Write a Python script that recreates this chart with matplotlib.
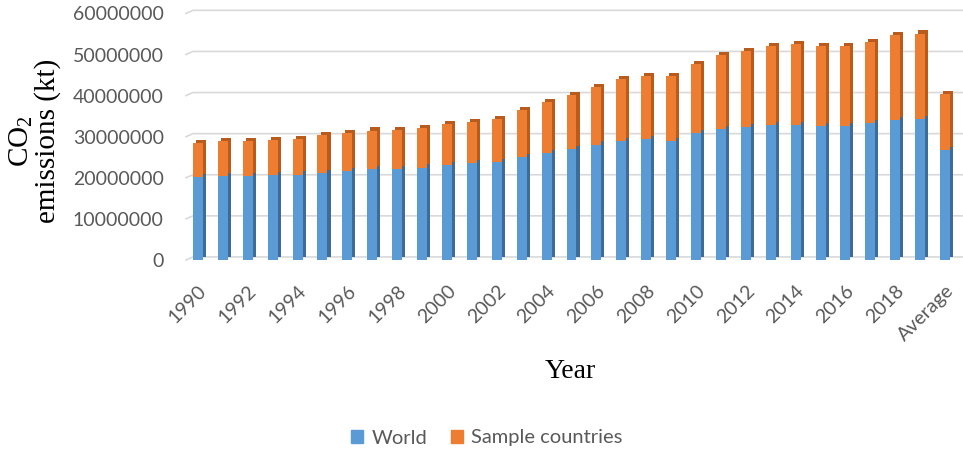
import matplotlib
matplotlib.use("Agg")
import matplotlib.pyplot as plt
from matplotlib import patheffects as pe
from matplotlib.patches import Patch
from matplotlib.ticker import StrMethodFormatter

# CO2 emissions (kt), world vs. sample countries, stacked
years = [str(y) for y in range(1990, 2020)] + ["Average"]

world = [
    20.3e6, 20.4e6, 20.5e6, 20.7e6, 20.8e6, 21.2e6, 21.7e6, 22.1e6, 22.2e6, 22.5e6,
    23.1e6, 23.5e6, 23.8e6, 25.0e6, 26.0e6, 27.1e6, 28.1e6, 29.0e6, 29.4e6, 29.0e6,
    30.8e6, 31.8e6, 32.3e6, 32.8e6, 32.8e6, 32.7e6, 32.7e6, 33.3e6, 34.1e6, 34.2e6,
    26.8e6,
]
sample = [
    8.2e6, 8.6e6, 8.5e6, 8.5e6, 8.6e6, 9.1e6, 9.3e6, 9.4e6, 9.5e6, 9.5e6,
    9.9e6, 10.1e6, 10.6e6, 11.4e6, 12.4e6, 13.1e6, 14.1e6, 15.1e6, 15.4e6, 15.8e6,
    16.9e6, 18.1e6, 18.6e6, 19.3e6, 19.7e6, 19.4e6, 19.4e6, 19.8e6, 20.6e6, 20.9e6,
    13.5e6,
]
y_ticks = [0, 10e6, 20e6, 30e6, 40e6, 50e6, 60e6]

BLUE, BLUE_SIDE = "#5B9BD5", "#3E6C97"
ORANGE, ORANGE_SIDE = "#ED7D31", "#B95B1D"
GRID = "#D9D9D9"
TICK_COLOR = "#595959"

plt.rcParams["font.family"] = ["Lato", "DejaVu Sans"]
plt.rcParams["mathtext.fontset"] = "custom"
plt.rcParams["mathtext.rm"] = "Liberation Serif"

fig = plt.figure(figsize=(9.63, 4.55), dpi=100)
ax = fig.add_axes([186 / 963, 1 - 260 / 455, 777 / 963, (260 - 13.4) / 455])

x = list(range(len(years)))
depth = 2.2  # points, fake 3D depth of the columns

b1 = ax.bar(x, world, width=0.4, color=BLUE, linewidth=0, zorder=3)
b2 = ax.bar(x, sample, bottom=world, width=0.4, color=ORANGE, linewidth=0, zorder=3)
for bars, side in ((b1, BLUE_SIDE), (b2, ORANGE_SIDE)):
    for r in bars:
        r.set_path_effects([
            pe.SimplePatchShadow(offset=(depth, depth), shadow_rgbFace=side, alpha=1.0),
            pe.Normal(),
        ])

ax.set_xlim(-0.48, 30.72)
ax.set_ylim(0, 60e6)

# back-wall gridlines with a short slanted floor edge on the left
lift = 60e6 * (depth * 100 / 72) / ax.bbox.height
for v in y_ticks:
    ax.plot([0, 0.009, 1], [v, v + lift, v + lift], color=GRID, lw=1.2,
            transform=ax.get_yaxis_transform(), zorder=1, clip_on=False)

ax.set_yticks(y_ticks)
ax.yaxis.set_major_formatter(StrMethodFormatter("{x:.0f}"))
ax.set_xticks(x[::2])
ax.set_xticklabels(years[::2], rotation=45, ha="right", rotation_mode="anchor")
ax.tick_params(axis="both", length=0, labelsize=14, colors=TICK_COLOR)
ax.tick_params(axis="y", pad=16)
ax.tick_params(axis="x", pad=16)
for s in ax.spines.values():
    s.set_visible(False)

fig.text(34 / 963, 1 - 141 / 455, "CO$_2$\nemissions (kt)", rotation=90,
         ha="center", va="center", multialignment="center",
         family="Liberation Serif", fontsize=21, linespacing=0.95)
fig.text(570 / 963, 1 - 372 / 455, "Year", ha="center", va="center",
         family="Liberation Serif", fontsize=20)

handles = [Patch(color=BLUE, label="World"), Patch(color=ORANGE, label="Sample countries")]
fig.legend(handles=handles, loc="center", bbox_to_anchor=(487 / 963, 1 - 438 / 455),
           ncol=2, frameon=False, fontsize=14.5, handlelength=0.6, handleheight=0.6,
           handletextpad=0.4, columnspacing=1.2, labelcolor=TICK_COLOR)

fig.savefig("out.png", dpi=100)
